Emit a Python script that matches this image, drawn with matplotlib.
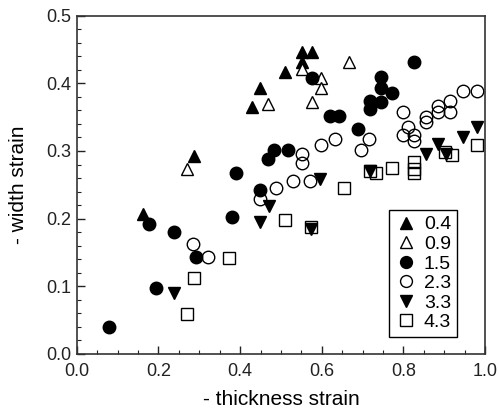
import numpy as np
import matplotlib
matplotlib.use("Agg")
import matplotlib.pyplot as plt
from matplotlib.ticker import MultipleLocator

plt.rcParams['font.family'] = ['Liberation Sans', 'DejaVu Sans']

# thickness / width strain pairs for each series
x_04 = [0.161, 0.287, 0.430, 0.449, 0.510, 0.552, 0.575, 0.552]
y_04 = [0.207, 0.293, 0.365, 0.393, 0.417, 0.446, 0.446, 0.431]

x_09 = [0.270, 0.469, 0.552, 0.597, 0.597, 0.575, 0.667]
y_09 = [0.274, 0.370, 0.421, 0.408, 0.393, 0.372, 0.432]

x_15 = [0.078, 0.194, 0.176, 0.238, 0.292, 0.381, 0.449, 0.389, 0.468, 0.483,
        0.518, 0.575, 0.620, 0.643, 0.690, 0.744, 0.744, 0.771, 0.718, 0.718,
        0.744, 0.826]
y_15 = [0.040, 0.097, 0.192, 0.180, 0.144, 0.202, 0.243, 0.268, 0.288, 0.301,
        0.301, 0.408, 0.351, 0.351, 0.333, 0.410, 0.393, 0.386, 0.374, 0.362,
        0.372, 0.432]

x_23 = [0.285, 0.322, 0.449, 0.489, 0.530, 0.572, 0.552, 0.552, 0.597, 0.632,
        0.695, 0.716, 0.798, 0.812, 0.798, 0.826, 0.826, 0.855, 0.855, 0.886,
        0.886, 0.914, 0.914, 0.947, 0.980]
y_23 = [0.162, 0.144, 0.229, 0.245, 0.255, 0.255, 0.295, 0.282, 0.309, 0.317,
        0.302, 0.317, 0.358, 0.336, 0.323, 0.323, 0.315, 0.350, 0.343, 0.367,
        0.357, 0.374, 0.358, 0.388, 0.388]

x_33 = [0.238, 0.449, 0.471, 0.574, 0.596, 0.718, 0.855, 0.886, 0.904, 0.947, 0.980]
y_33 = [0.090, 0.195, 0.219, 0.185, 0.258, 0.271, 0.295, 0.310, 0.295, 0.320, 0.336]

x_43 = [0.270, 0.286, 0.373, 0.510, 0.574, 0.654, 0.718, 0.733, 0.771, 0.826,
        0.826, 0.826, 0.902, 0.918, 0.980]
y_43 = [0.059, 0.112, 0.142, 0.198, 0.187, 0.245, 0.271, 0.268, 0.275, 0.283,
        0.274, 0.267, 0.299, 0.294, 0.309]

fig = plt.figure(figsize=(4.99, 4.13), dpi=100)
ax = fig.add_axes([0.154, 0.143, 0.818, 0.819])

ms = 9
ax.plot(x_04, y_04, '^', ms=ms, color='black', ls='none', label='0.4')
ax.plot(x_09, y_09, '^', ms=ms, mfc='white', mec='black', mew=1, ls='none', label='0.9')
ax.plot(x_15, y_15, 'o', ms=ms, color='black', ls='none', label='1.5')
ax.plot(x_23, y_23, 'o', ms=ms, mfc='none', mec='black', mew=1, ls='none', label='2.3')
ax.plot(x_33, y_33, 'v', ms=ms, color='black', ls='none', label='3.3')
ax.plot(x_43, y_43, 's', ms=ms - 0.5, mfc='none', mec='black', mew=1, ls='none', label='4.3')

ax.set_xlim(0, 1.0)
ax.set_ylim(0, 0.5)
ax.xaxis.set_major_locator(MultipleLocator(0.2))
ax.xaxis.set_minor_locator(MultipleLocator(0.05))
ax.yaxis.set_major_locator(MultipleLocator(0.1))
ax.yaxis.set_minor_locator(MultipleLocator(0.02))
ax.xaxis.set_major_formatter(plt.FormatStrFormatter('%.1f'))
ax.yaxis.set_major_formatter(plt.FormatStrFormatter('%.1f'))
ax.tick_params(which='both', direction='in', top=False, right=False, labelsize=13, colors='#222222')
ax.tick_params(which='major', length=6, width=1)
ax.tick_params(which='minor', length=3, width=0.8)
ax.tick_params(axis='x', which='major', pad=6.5)
ax.tick_params(axis='y', which='major', pad=4)
for s in ax.spines.values():
    s.set_color('#333333')
    s.set_linewidth(1.2)

ax.set_xlabel('- thickness strain', fontsize=15, labelpad=7)
ax.set_ylabel('- width strain', fontsize=15, labelpad=13)

leg = ax.legend(loc='lower right', bbox_to_anchor=(0.931, 0.05), fontsize=14,
                frameon=True, fancybox=False, edgecolor='black', framealpha=1,
                handlelength=1.2, handletextpad=0.3, labelspacing=0.1,
                borderpad=0.3, borderaxespad=0, markerscale=0.95)
leg.get_frame().set_linewidth(1)

fig.savefig('out.png', dpi=100)
